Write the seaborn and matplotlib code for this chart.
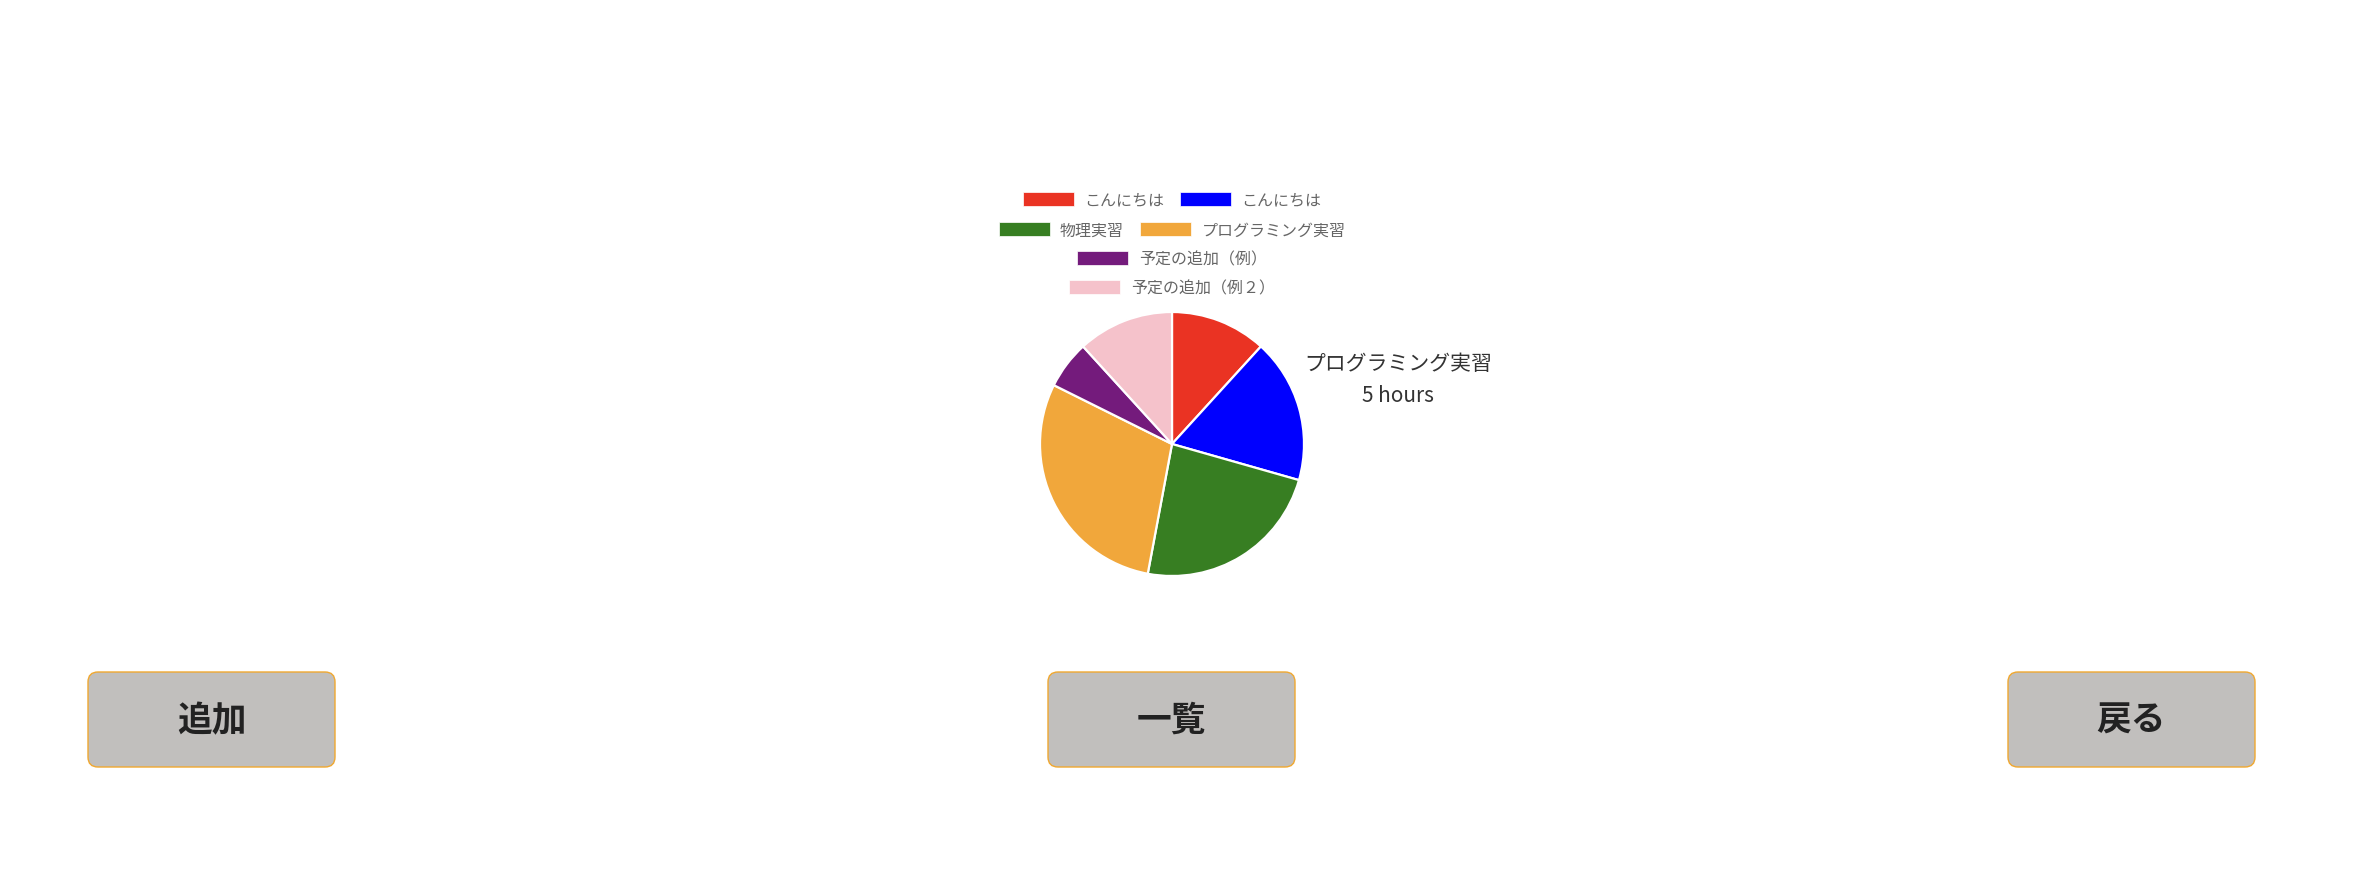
import matplotlib.pyplot as plt
import seaborn as sns
from matplotlib.patches import FancyBboxPatch

# --- data ---
labels = ['こんにちは', 'こんにちは', '物理実習', 'プログラミング実習', '予定の追加（例）', '予定の追加（例２）']
hours = [2, 3, 4, 5, 1, 2]
colors = ['#EA3323', '#0000FF', '#377E22', '#F1A73B', '#741B7C', '#F5C2CB']
buttons = ['追加', '一覧', '戻る']
tooltip_idx = 3

# --- style ---
sns.set_theme(style="white")
plt.rcParams['font.family'] = ['Noto Sans CJK JP', 'DejaVu Sans']

W, H = 2376, 870
fig = plt.figure(figsize=(W / 100, H / 100), dpi=100)
fig.patch.set_facecolor('white')

# background layer in pixel coordinates for the buttons
bg = fig.add_axes([0, 0, 1, 1])
bg.set_xlim(0, W)
bg.set_ylim(H, 0)
bg.axis('off')

# pie
cx, cy, r = 1172, 445, 132
ax = fig.add_axes([(cx - r) / W, (H - cy - r) / H, 2 * r / W, 2 * r / H])
pal = sns.color_palette(colors)
wedges, _ = ax.pie(hours, colors=pal, startangle=90, counterclock=False,
                   wedgeprops=dict(edgecolor='white', linewidth=1.6))
ax.set_xlim(-1.0, 1.0)
ax.set_ylim(-1.0, 1.0)
ax.set_aspect('equal')
ax.axis('off')

# legend, wrapped into rows like the original
rows = [[0, 1], [2, 3], [4], [5]]
row_y = [201, 231, 260, 289]
for idx, y in zip(rows, row_y):
    leg = fig.legend([wedges[i] for i in idx], [labels[i] for i in idx],
                     loc='center', bbox_to_anchor=(cx / W, 1 - y / H),
                     ncol=len(idx), frameon=False, fontsize=11.5,
                     handlelength=3.2, handleheight=1.0, handletextpad=0.65,
                     columnspacing=1.0, borderpad=0, borderaxespad=0)
    for h in leg.legend_handles:
        h.set_linewidth(0.5)
    for t in leg.get_texts():
        t.set_color('#666666')

# tooltip-like label
fig.text(1398 / W, 1 - 380 / H, f'{labels[tooltip_idx]}\n{hours[tooltip_idx]} hours',
         ha='center', va='center', fontsize=15, color='#333333', linespacing=1.6)

# buttons
btn_x = [88, 1048, 2008]
bw, bh, by = 247, 95, 673
for x, name in zip(btn_x, buttons):
    bg.add_patch(FancyBboxPatch((x, by), bw, bh,
                                boxstyle='round,pad=0,rounding_size=10',
                                fc='#C1BFBD', ec='#F0A830', lw=1.0))
    bg.text(x + bw / 2, by + bh / 2, name, ha='center', va='center',
            fontsize=25, fontweight='bold', color='#222222')

fig.savefig('out.png', dpi=100)
